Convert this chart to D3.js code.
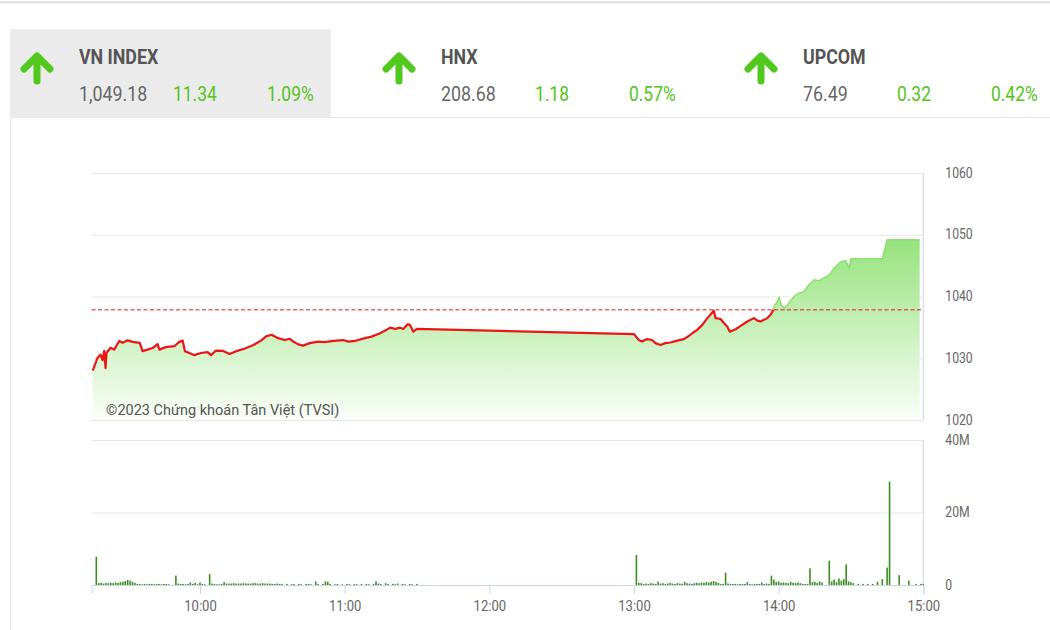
<!DOCTYPE html>
<html><head><meta charset="utf-8">
<script src="https://cdn.jsdelivr.net/npm/d3@7"></script>
<style>body{margin:0;background:#fff;font-family:Roboto,sans-serif}</style>
</head><body><svg id="c" width="1050" height="630"></svg>
<script>
// ---------- data ----------
const indexNames = ["VN INDEX", "HNX", "UPCOM"];
const indexValues = ["1,049.18", "208.68", "76.49"];
const indexChanges = ["11.34", "1.18", "0.32"];
const indexPercents = ["1.09%", "0.57%", "0.42%"];
const refPrice = 1037.84;

const priceTimes = ["09:15:30","09:17:30","09:18:45","09:19:35","09:20:15","09:20:50","09:21:15","09:22:55","09:24:25","09:26:30",
"09:27:55","09:30:00","09:32:00","09:35:00","09:36:10","09:38:15","09:40:20","09:42:25","09:43:10","09:45:45",
"09:49:20","09:51:25","09:52:50","09:53:45","09:55:35","09:57:40","10:00:25","10:03:10","10:04:35","10:06:40",
"10:09:25","10:12:15","10:15:00","10:18:25","10:21:55","10:25:20","10:27:25","10:29:40","10:32:25","10:35:10",
"10:37:15","10:38:40","10:40:45","10:42:45","10:45:35","10:49:00","10:51:50","10:55:15","10:59:25","11:01:30",
"11:04:15","11:08:25","11:11:10","11:14:40","11:17:25","11:18:50","11:20:55","11:23:00","11:24:20","11:26:10",
"11:27:05","11:28:30","11:29:55","13:00:00","13:02:00","13:03:20","13:05:25","13:07:30","13:08:55","13:11:00",
"13:13:00","13:15:10","13:18:00","13:20:40","13:22:45","13:24:10","13:26:15","13:28:20","13:30:25","13:32:30",
"13:33:05","13:33:50","13:35:55","13:37:15","13:38:40","13:39:45","13:42:10","13:44:15","13:47:00","13:49:45",
"13:51:10","13:52:30","13:55:20","13:56:40","13:57:25","13:58:05","13:59:30","14:00:10","14:01:05","14:02:30",
"14:04:15","14:06:20","14:08:25","14:10:30","14:12:35","14:14:40","14:16:45","14:18:50","14:21:00","14:23:00",
"14:25:45","14:27:50","14:29:15","14:30:00","14:43:00","14:45:00","14:58:30"];
const priceValues = [1028.0,1030.05,1030.6,1029.7,1031.2,1028.4,1030.9,1031.7,1031.4,1032.8,
1032.5,1032.9,1032.65,1032.5,1031.15,1031.4,1031.65,1032.3,1031.4,1031.8,
1031.95,1032.65,1032.85,1031.15,1030.85,1030.5,1030.85,1031.0,1030.5,1031.25,
1031.2,1030.7,1031.15,1031.55,1032.1,1032.85,1033.55,1033.8,1033.25,1032.95,
1033.15,1032.7,1032.25,1032.05,1032.45,1032.7,1032.6,1032.8,1032.95,1032.7,
1032.8,1033.25,1033.5,1034.05,1034.6,1034.95,1034.75,1034.95,1034.75,1035.5,
1035.4,1034.3,1034.75,1033.9,1032.95,1032.7,1033.1,1032.95,1032.45,1032.15,
1032.45,1032.55,1032.85,1033.1,1033.6,1034.05,1034.6,1035.4,1036.5,1037.4,
1037.75,1036.5,1036.35,1035.7,1035.15,1034.3,1034.7,1035.25,1035.95,1036.5,
1036.1,1035.95,1036.5,1037.05,1037.55,1038.4,1039.2,1039.85,1038.65,1038.1,
1038.95,1040.0,1040.55,1040.8,1041.9,1042.7,1042.55,1043.0,1043.5,1044.6,
1045.6,1045.8,1044.6,1046.1,1046.1,1049.18,1049.18];

// volume per minute (millions), morning session from 09:15, afternoon from 13:00
const volMorningStart = "09:15:00";
const volMorning = [0,0,7.8,
0.5,0.6,0.4,0.6,0.5,0.6,0.5,0.7,0.6,0.8,0.9,1.1,1.4,1.2,0.9,0.6,
0.3,0.3,0.2,0.3,0.2,0.3,0.3,0.2,0.3,0.3,0.2,0.3,0.3,0.2,0,0,
2.6,
0.4,0.3,0.3,0.2,0.3,0.7,0.3,0.6,0.2,0.7,0.3,0.2,0,
3.0,
0.4,0.3,0.2,0.2,0.3,0.8,
0.4,0.4,0.4,0.5,0.4,0.4,0.4,0.5,0.4,0.4,0.4,0.5,0.5,0.4,0.4,0.5,0.4,0.4,0.4,0.3,0.3,0.4,0.3,
0.3,0,0.3,0,0.2,0.3,0,0.3,0.2,0,0.3,0.3,0.2,0,1.0,0.3,0,0.3,1.0,0.9,0.3,0,0.2,0.3,0,0.2,0,0.3,0.2,0,
0.3,0.2,0,0.3,0,0.3,0.2,0,0.3,1.0,0.4,0.3,0,0.5,0.3,0,0.3,0.2,0.4,0,0.3,0.2,0,0.3,0.2,0,0.3];
const volAfternoonStart = "13:00:00";
const volAfternoon = [0,8.3,
0.6,0.5,0.3,0.4,0.3,0.5,0.4,0.3,0.9,0.4,0.5,0.3,0.4,0.6,0.4,0.3,0.5,0.4,0.3,0.9,0.5,0.4,0.3,0.5,0.6,0.5,0.7,0.6,0.8,0.7,0.9,1.1,0.8,0.6,0.3,0.3,
3.4,
0.4,0.3,0.3,0.3,0.2,0.3,0.3,0.3,0.8,0.3,0.2,0.3,0.3,0.3,0.7,0.3,0.4,0.3,
2.6,
1.5,0.8,1.0,0.6,0.7,0.6,0.5,0.9,0.6,0.5,0.7,0.5,
0.3,0.3,0.3,
4.6,
0.8,0.9,0.6,1.0,0.7,0,0,
6.7,
1.0,1.5,0.8,1.8,1.2,1.6,
5.7,
1.0,0.8,0.5,
0,0.3,0,0.3,0,0.3,0,0.3,0,0.9,0,1.6,0,4.8,28.5,0,0,0,2.7,0,0,0,1.2,0,0,0.3,0,0.3,0.3];

const priceTicks = [1020, 1030, 1040, 1050, 1060];
const volTicks = [0, 20, 40];
const volTickLabels = ["0", "20M", "40M"];
const timeTicks = ["10:00:00","11:00:00","12:00:00","13:00:00","14:00:00","15:00:00"];
const watermark = "©2023 Chứng khoán Tân Việt (TVSI)";

// ---------- drawing ----------
const svg = d3.select("#c");
const parse = d3.timeParse("%H:%M:%S");
const COND = 0.87;
const green = "#52c41a";

// page chrome
svg.append("rect").attr("x",0).attr("y",1).attr("width",1050).attr("height",2.5).attr("fill","#e2e2e2");
svg.append("rect").attr("x",10).attr("y",29).attr("width",321).attr("height",88).attr("fill","#ebebeb");
svg.append("line").attr("x1",10).attr("x2",1050).attr("y1",117.5).attr("y2",117.5).attr("stroke","#e8e8e8");
svg.append("line").attr("x1",10.5).attr("x2",10.5).attr("y1",117).attr("y2",630).attr("stroke","#e8e8e8");

// header
const hx = d3.scaleOrdinal().domain(indexNames).range([79, 441, 803]);
indexNames.forEach((name, i) => {
  const x0 = hx(name);
  const g = svg.append("g");
  g.append("path")
    .attr("d", `M${x0-42},81V58M${x0-55},69L${x0-42},56L${x0-29},69`)
    .attr("fill","none").attr("stroke","#50c81e").attr("stroke-width",7)
    .attr("stroke-linecap","round").attr("stroke-linejoin","round");
  const t = (x, y, txt, fill, weight, sx) => g.append("text")
    .attr("transform", `translate(${x},${y}) scale(${sx},1)`)
    .attr("font-size", 20).attr("font-weight", weight).attr("fill", fill).text(txt);
  t(x0, 64, name, "#555", 700, 0.89);
  t(x0, 101, indexValues[i], "#666", 400, 0.89);
  t(x0 + 94, 101, indexChanges[i], green, 400, COND);
  t(x0 + 188, 101, indexPercents[i], green, 400, COND);
});

const L = 91.5, R = 923.3;
const x = d3.scaleTime().domain([parse("09:15:00"), parse("15:00:00")]).range([L, R]);
const yP = d3.scaleLinear().domain([1020, 1060]).range([420, 173]);
const yV = d3.scaleLinear().domain([0, 40]).range([585, 440]);

// price grid + labels
const gy = svg.append("g").attr("transform", `translate(${R},0)`)
  .call(d3.axisRight(yP).tickValues(priceTicks).tickSize(-(R - L)).tickFormat(d3.format("d")));
gy.select(".domain").remove();
gy.selectAll(".tick line").attr("stroke", "#e6e6e6");
gy.selectAll(".tick text").attr("x", null).attr("dy", "0.3em")
  .attr("transform", `translate(22,0) scale(${COND},1)`)
  .attr("font-family","Roboto").attr("font-size", 14).attr("fill", "#666");

// gradient
const defs = svg.append("defs");
const grad = defs.append("linearGradient").attr("id","pg").attr("gradientUnits","userSpaceOnUse")
  .attr("x1",0).attr("x2",0).attr("y1",yP(1050)).attr("y2",yP(1020));
grad.append("stop").attr("offset",0).attr("stop-color","#93e27a");
grad.append("stop").attr("offset",1).attr("stop-color","#fbfef9");
defs.append("clipPath").attr("id","above").append("rect")
  .attr("x",L).attr("y",0).attr("width",R-L).attr("height",yP(refPrice));
defs.append("clipPath").attr("id","below").append("rect")
  .attr("x",L).attr("y",yP(refPrice)).attr("width",R-L).attr("height",630);

const pdata = priceTimes.map((t, i) => ({t: parse(t), v: priceValues[i]}));
svg.append("path").datum(pdata).attr("fill","url(#pg)")
  .attr("d", d3.area().x(d => x(d.t)).y0(yP(1020)).y1(d => yP(d.v)));
const line = d3.line().x(d => x(d.t)).y(d => yP(d.v));
svg.append("path").datum(pdata).attr("fill","none").attr("stroke","#8ddf70").attr("stroke-width",1.5)
  .attr("clip-path","url(#above)").attr("d", line);
svg.append("path").datum(pdata).attr("fill","none").attr("stroke","#ea1616").attr("stroke-width",2.2)
  .attr("stroke-linejoin","round").attr("clip-path","url(#below)").attr("d", line);
svg.append("line").attr("x1",L).attr("x2",R).attr("y1",yP(refPrice)).attr("y2",yP(refPrice))
  .attr("stroke","#e81818").attr("stroke-width",1).attr("stroke-dasharray","4,2.5");
svg.append("line").attr("x1",R).attr("x2",R).attr("y1",yP(1060)).attr("y2",yP(1020)).attr("stroke","#ccd6eb");

svg.append("text").attr("x",106).attr("y",414.5)
  .attr("font-size",14.5).attr("fill","#555").text(watermark);

// volume grid + labels
const gv = svg.append("g").attr("transform", `translate(${R},0)`)
  .call(d3.axisRight(yV).tickValues(volTicks).tickSize(-(R - L)).tickFormat((d, i) => volTickLabels[i]));
gv.select(".domain").remove();
gv.selectAll(".tick line").attr("stroke", (d) => d === 0 ? "none" : "#e6e6e6");
gv.selectAll(".tick text").attr("x", null).attr("dy", "0.3em")
  .attr("transform", `translate(22,0) scale(${COND},1)`)
  .attr("font-family","Roboto").attr("font-size", 14).attr("fill", "#666");
svg.append("line").attr("x1",R).attr("x2",R).attr("y1",yV(40)).attr("y2",yV(0)).attr("stroke","#ccd6eb");

const vdata = [];
const m0 = parse(volMorningStart), a0 = parse(volAfternoonStart);
volMorning.forEach((v, i) => vdata.push({t: d3.timeMinute.offset(m0, i), v}));
volAfternoon.forEach((v, i) => vdata.push({t: d3.timeMinute.offset(a0, i), v}));
svg.append("g").selectAll("rect").data(vdata.filter(d => d.v > 0)).join("rect")
  .attr("x", d => x(d.t) - 0.8).attr("width", 1.6)
  .attr("y", d => yV(d.v)).attr("height", d => yV(0) - yV(d.v))
  .attr("fill", "#3b8f1f");

// x axis
const gx = svg.append("g").attr("transform", `translate(0,${yV(0)})`)
  .call(d3.axisBottom(x).tickValues(timeTicks.map(parse)).tickSize(9).tickPadding(6)
    .tickFormat(d3.timeFormat("%H:%M")));
gx.select(".domain").attr("stroke","#ccd6eb");
gx.selectAll(".tick line").attr("stroke","#ccd6eb");
gx.selectAll(".tick text").each(function() {
  const s = d3.select(this); const yy = s.attr("y");
  s.attr("y", null).attr("transform", `translate(0,${yy}) scale(${COND},1)`);
}).attr("font-family","Roboto").attr("font-size",15).attr("fill","#666");
</script>
</body></html>
